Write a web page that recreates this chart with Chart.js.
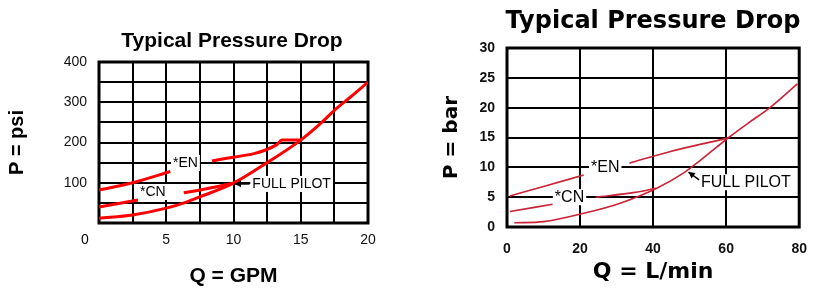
<!DOCTYPE html>
<html>
<head>
<meta charset="utf-8">
<script src="https://cdn.jsdelivr.net/npm/chart.js@4.4.1/dist/chart.umd.min.js"></script>
<style>
  body { margin: 0; background: #fff; }
  canvas { position: absolute; top: 0; }
  #psiChart { left: 0; }
  #barChart { left: 410px; }
</style>
</head>
<body>
<canvas id="psiChart" width="410" height="290"></canvas>
<canvas id="barChart" width="411" height="290"></canvas>
<script>
// ---- left chart: GPM vs psi ----
const gpmTicks = [0, 5, 10, 15, 20];
const psiTicks = [100, 200, 300, 400];
const gpmPilot = [0, 2.5, 5, 6.5, 7.5, 10, 12.5, 15, 16.5, 17.5, 18.7, 20];
const psiPilot = [12, 20, 37, 52, 65, 99, 150, 206, 248, 280, 313, 350];
const gpmEN = [0, 2.5, 5.3, 7, 8.4, 13.2, 13.6, 15];
const psiEN = [82, 100, 128, null, 154, 194, 206, 206];
const gpmCN = [0, 2.9, 4.5, 6.3, 8, 10];
const psiCN = [40, 57, null, 75, 85, 99];

// ---- right chart: L/min vs bar ----
const lpmTicks = [0, 20, 40, 60, 80];
const barTicks = [0, 5, 10, 15, 20, 25, 30];
const lpmPilot = [2, 10, 21, 31, 41, 48.7, 53, 60.7, 66, 72, 79.5];
const barPilot = [0.7, 0.9, 2.3, 4.0, 6.5, 9.2, 11.2, 15, 17.4, 20, 24];
const lpmEN = [0.8, 10, 21, 27, 33.5, 45, 60.5];
const barEN = [5.2, 6.8, 8.7, null, 10.7, 12.7, 14.9];
const lpmCN = [0.8, 12.5, 18, 24.3, 35, 40.8];
const barCN = [2.6, 3.8, null, 5.0, 5.8, 6.5];

const toPts = (xs, ys) => xs.map((x, i) => ({ x: x, y: ys[i] }));

function line(xs, ys, color, width) {
  return {
    data: toPts(xs, ys),
    showLine: true,
    borderColor: color,
    borderWidth: width,
    pointRadius: 0,
    cubicInterpolationMode: 'monotone',
    spanGaps: false
  };
}

// frame, title, curve labels and arrows
function makeNotes(cfg) {
  return {
    id: 'notes',
    beforeDatasetsDraw(chart) {
      const { ctx, chartArea: a } = chart;
      ctx.save();
      ctx.strokeStyle = '#000';
      ctx.lineWidth = cfg.frame;
      ctx.strokeRect(a.left, a.top, a.right - a.left, a.bottom - a.top);
      ctx.restore();
    },
    afterDatasetsDraw(chart) {
      const { ctx, scales: { x, y } } = chart;
      ctx.save();
      ctx.fillStyle = '#000';
      ctx.font = cfg.titleFont;
      ctx.textAlign = 'center';
      ctx.textBaseline = 'alphabetic';
      ctx.fillText(cfg.title, cfg.titleX, cfg.titleY);

      ctx.font = cfg.labelFont;
      ctx.textAlign = 'left';
      ctx.textBaseline = 'middle';
      cfg.labels.forEach(l => {
        const px = x.getPixelForValue(l.x), py = y.getPixelForValue(l.y);
        const w = ctx.measureText(l.text).width;
        ctx.fillStyle = '#fff';
        ctx.fillRect(px - 2, py - 8, w + 4, 16);
        ctx.fillStyle = '#000';
        ctx.fillText(l.text, px, py);
      });

      cfg.arrows.forEach(ar => {
        const x1 = x.getPixelForValue(ar.from[0]), y1 = y.getPixelForValue(ar.from[1]);
        const x2 = x.getPixelForValue(ar.to[0]), y2 = y.getPixelForValue(ar.to[1]);
        const ang = Math.atan2(y2 - y1, x2 - x1);
        ctx.strokeStyle = '#000';
        ctx.lineWidth = 1.5;
        ctx.beginPath();
        ctx.moveTo(x1, y1);
        ctx.lineTo(x2, y2);
        ctx.stroke();
        ctx.beginPath();
        ctx.moveTo(x2, y2);
        ctx.lineTo(x2 - 7 * Math.cos(ang - 0.5), y2 - 7 * Math.sin(ang - 0.5));
        ctx.lineTo(x2 - 7 * Math.cos(ang + 0.5), y2 - 7 * Math.sin(ang + 0.5));
        ctx.closePath();
        ctx.fillStyle = '#000';
        ctx.fill();
      });

      if (cfg.zeroLabel) {
        ctx.font = cfg.tickFont;
        ctx.textAlign = 'center';
        ctx.fillText('0', x.getPixelForValue(0) - 14, chart.chartArea.bottom + 17);
      }
      ctx.restore();
    }
  };
}

const sans = '"Liberation Sans", Arial, sans-serif';
const heavy = '"DejaVu Sans", Verdana, sans-serif';

new Chart(document.getElementById('psiChart'), {
  type: 'scatter',
  data: {
    datasets: [
      line(gpmPilot, psiPilot, '#ff0000', 3),
      line(gpmEN, psiEN, '#ff0000', 3),
      line(gpmCN, psiCN, '#ff0000', 3)
    ]
  },
  options: {
    responsive: false,
    animation: false,
    layout: { padding: { top: 62, right: 42, bottom: 0, left: 0 } },
    plugins: { legend: { display: false }, tooltip: { enabled: false } },
    scales: {
      x: {
        type: 'linear', min: 0, max: 20,
        afterFit: s => { s.height = 67; },
        border: { display: false },
        grid: { color: '#000', lineWidth: 2, drawTicks: false },
        ticks: {
          stepSize: 2.5, padding: 9, color: '#111',
          font: { family: sans, size: 14 },
          callback: v => (gpmTicks.includes(v) && v > 0 ? v : '')
        },
        title: {
          display: true, text: 'Q = GPM', color: '#000',
          font: { family: sans, size: 21, weight: 'bold' },
          padding: { top: 0, bottom: 1 }
        }
      },
      y: {
        type: 'linear', min: 0, max: 400,
        afterFit: s => { s.width = 99; },
        border: { display: false },
        grid: { color: '#000', lineWidth: 2, drawTicks: false },
        ticks: {
          stepSize: 50, padding: 12, color: '#111',
          font: { family: sans, size: 14 },
          callback: v => (psiTicks.includes(v) ? v : '')
        },
        title: {
          display: true, text: 'P = psi', color: '#000',
          font: { family: sans, size: 20, weight: 'bold' },
          padding: { top: 5, bottom: 0 }
        }
      }
    }
  },
  plugins: [makeNotes({
    frame: 3,
    title: 'Typical Pressure Drop', titleX: 232, titleY: 47,
    titleFont: 'bold 21px ' + sans,
    labelFont: '14px ' + sans,
    tickFont: '14px ' + sans,
    zeroLabel: true,
    labels: [
      { text: '*EN', x: 5.5, y: 149 },
      { text: '*CN', x: 3.05, y: 77 },
      { text: 'FULL PILOT', x: 11.4, y: 97 }
    ],
    arrows: [{ from: [11.2, 97], to: [10.1, 97] }]
  })]
});

new Chart(document.getElementById('barChart'), {
  type: 'scatter',
  data: {
    datasets: [
      line(lpmPilot, barPilot, '#cc2236', 1.6),
      line(lpmEN, barEN, '#cc2236', 1.6),
      line(lpmCN, barCN, '#cc2236', 1.6)
    ]
  },
  options: {
    responsive: false,
    animation: false,
    layout: { padding: { top: 48, right: 8, bottom: 0, left: 0 } },
    plugins: { legend: { display: false }, tooltip: { enabled: false } },
    scales: {
      x: {
        type: 'linear', min: 0, max: 80,
        afterFit: s => { s.height = 63; },
        border: { display: false },
        grid: { color: '#000', lineWidth: 2, drawTicks: false },
        ticks: {
          stepSize: 20, padding: 14, color: '#111',
          font: { family: sans, size: 14, weight: 'bold' },
          callback: v => (lpmTicks.includes(v) ? v : '')
        },
        title: {
          display: true, text: 'Q = L/min', color: '#000',
          font: { family: heavy, size: 22, weight: 'bold' },
          padding: { top: 0, bottom: 5 }
        }
      },
      y: {
        type: 'linear', min: 0, max: 30,
        afterFit: s => { s.width = 97; },
        border: { display: false },
        grid: { color: '#000', lineWidth: 2, drawTicks: false },
        ticks: {
          stepSize: 5, padding: 12, color: '#111',
          font: { family: sans, size: 14, weight: 'bold' },
          callback: v => (barTicks.includes(v) ? v : '')
        },
        title: {
          display: true, text: 'P = bar', color: '#000',
          font: { family: heavy, size: 20, weight: 'bold' },
          padding: { top: 30, bottom: 0 }
        }
      }
    }
  },
  plugins: [makeNotes({
    frame: 3,
    title: 'Typical Pressure Drop', titleX: 243, titleY: 28,
    titleFont: 'bold 24px ' + heavy,
    labelFont: '16px ' + sans,
    zeroLabel: false,
    labels: [
      { text: '*EN', x: 23, y: 9.9 },
      { text: '*CN', x: 13.1, y: 5.0 },
      { text: 'FULL PILOT', x: 53.1, y: 7.5 }
    ],
    arrows: [{ from: [52.6, 7.9], to: [49.7, 9.2] }]
  })]
});
</script>
</body>
</html>
